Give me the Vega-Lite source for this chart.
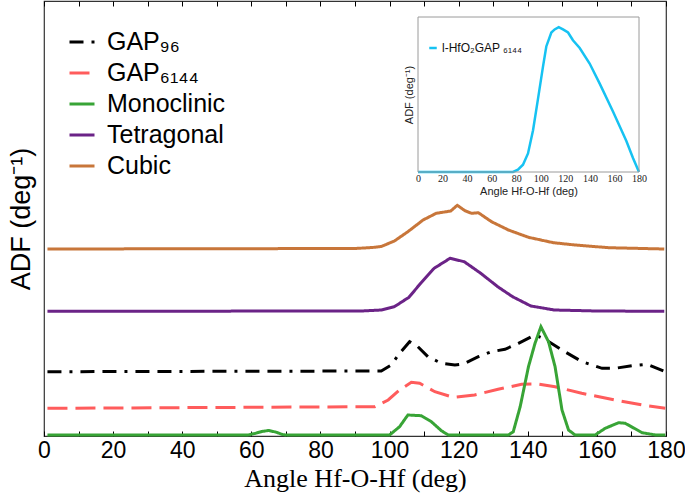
{
  "$schema": "https://vega.github.io/schema/vega-lite/v6.json",
  "width": 622,
  "height": 435,
  "autosize": {"type": "none"},
  "padding": {"left": 44, "top": 1, "right": 19, "bottom": 57},
  "config": {
    "view": {"stroke": "#333", "strokeWidth": 1.2},
    "axis": {"grid": false},
    "font": "Liberation Sans"
  },
  "datasets": {
    "main": [
      {"series": "Cubic", "angle": 1, "adf": 1.87},
      {"series": "Cubic", "angle": 90, "adf": 1.875},
      {"series": "Cubic", "angle": 95, "adf": 1.885},
      {"series": "Cubic", "angle": 97.6, "adf": 1.895},
      {"series": "Cubic", "angle": 101.4, "adf": 1.95},
      {"series": "Cubic", "angle": 105.3, "adf": 2.043},
      {"series": "Cubic", "angle": 109.7, "adf": 2.16},
      {"series": "Cubic", "angle": 113.5, "adf": 2.227},
      {"series": "Cubic", "angle": 117.7, "adf": 2.25},
      {"series": "Cubic", "angle": 119.6, "adf": 2.307},
      {"series": "Cubic", "angle": 121.8, "adf": 2.253},
      {"series": "Cubic", "angle": 123.7, "adf": 2.227},
      {"series": "Cubic", "angle": 125.7, "adf": 2.233},
      {"series": "Cubic", "angle": 129.5, "adf": 2.143},
      {"series": "Cubic", "angle": 134.4, "adf": 2.06},
      {"series": "Cubic", "angle": 140.2, "adf": 1.987},
      {"series": "Cubic", "angle": 147.4, "adf": 1.933},
      {"series": "Cubic", "angle": 153.7, "adf": 1.91},
      {"series": "Cubic", "angle": 163.4, "adf": 1.883},
      {"series": "Cubic", "angle": 179.5, "adf": 1.87},
      {"series": "Tetragonal", "angle": 1, "adf": 1.247},
      {"series": "Tetragonal", "angle": 92, "adf": 1.25},
      {"series": "Tetragonal", "angle": 97.6, "adf": 1.26},
      {"series": "Tetragonal", "angle": 101.4, "adf": 1.293},
      {"series": "Tetragonal", "angle": 105.6, "adf": 1.387},
      {"series": "Tetragonal", "angle": 109, "adf": 1.527},
      {"series": "Tetragonal", "angle": 112.9, "adf": 1.677},
      {"series": "Tetragonal", "angle": 117.5, "adf": 1.777},
      {"series": "Tetragonal", "angle": 121.6, "adf": 1.743},
      {"series": "Tetragonal", "angle": 126.4, "adf": 1.627},
      {"series": "Tetragonal", "angle": 131.3, "adf": 1.493},
      {"series": "Tetragonal", "angle": 135.6, "adf": 1.393},
      {"series": "Tetragonal", "angle": 140.9, "adf": 1.3},
      {"series": "Tetragonal", "angle": 147.7, "adf": 1.26},
      {"series": "Tetragonal", "angle": 160, "adf": 1.25},
      {"series": "Tetragonal", "angle": 179.5, "adf": 1.247},
      {"series": "GAP₉₆", "angle": 1, "adf": 0.643},
      {"series": "GAP₉₆", "angle": 97.6, "adf": 0.65},
      {"series": "GAP₉₆", "angle": 100.5, "adf": 0.71},
      {"series": "GAP₉₆", "angle": 102.9, "adf": 0.827},
      {"series": "GAP₉₆", "angle": 105.8, "adf": 0.943},
      {"series": "GAP₉₆", "angle": 107.7, "adf": 0.91},
      {"series": "GAP₉₆", "angle": 111.1, "adf": 0.793},
      {"series": "GAP₉₆", "angle": 115, "adf": 0.727},
      {"series": "GAP₉₆", "angle": 118.9, "adf": 0.71},
      {"series": "GAP₉₆", "angle": 121.3, "adf": 0.72},
      {"series": "GAP₉₆", "angle": 125.7, "adf": 0.793},
      {"series": "GAP₉₆", "angle": 129.5, "adf": 0.843},
      {"series": "GAP₉₆", "angle": 133.4, "adf": 0.867},
      {"series": "GAP₉₆", "angle": 137.3, "adf": 0.927},
      {"series": "GAP₉₆", "angle": 142.1, "adf": 1.01},
      {"series": "GAP₉₆", "angle": 145, "adf": 0.967},
      {"series": "GAP₉₆", "angle": 149.9, "adf": 0.86},
      {"series": "GAP₉₆", "angle": 155.7, "adf": 0.743},
      {"series": "GAP₉₆", "angle": 161.5, "adf": 0.677},
      {"series": "GAP₉₆", "angle": 165.3, "adf": 0.677},
      {"series": "GAP₉₆", "angle": 170.2, "adf": 0.703},
      {"series": "GAP₉₆", "angle": 174.5, "adf": 0.717},
      {"series": "GAP₉₆", "angle": 179.8, "adf": 0.643},
      {"series": "GAP₆₁₄₄", "angle": 1, "adf": 0.277},
      {"series": "GAP₆₁₄₄", "angle": 95.7, "adf": 0.293},
      {"series": "GAP₆₁₄₄", "angle": 99.6, "adf": 0.36},
      {"series": "GAP₆₁₄₄", "angle": 102.9, "adf": 0.46},
      {"series": "GAP₆₁₄₄", "angle": 106.3, "adf": 0.537},
      {"series": "GAP₆₁₄₄", "angle": 108.7, "adf": 0.527},
      {"series": "GAP₆₁₄₄", "angle": 113.1, "adf": 0.443},
      {"series": "GAP₆₁₄₄", "angle": 118.4, "adf": 0.387},
      {"series": "GAP₆₁₄₄", "angle": 124.6, "adf": 0.41},
      {"series": "GAP₆₁₄₄", "angle": 131.4, "adf": 0.467},
      {"series": "GAP₆₁₄₄", "angle": 138.2, "adf": 0.517},
      {"series": "GAP₆₁₄₄", "angle": 143, "adf": 0.52},
      {"series": "GAP₆₁₄₄", "angle": 147.9, "adf": 0.493},
      {"series": "GAP₆₁₄₄", "angle": 155.6, "adf": 0.427},
      {"series": "GAP₆₁₄₄", "angle": 165.3, "adf": 0.36},
      {"series": "GAP₆₁₄₄", "angle": 174.9, "adf": 0.3},
      {"series": "GAP₆₁₄₄", "angle": 179.8, "adf": 0.277},
      {"series": "Monoclinic", "angle": 1, "adf": 0.01},
      {"series": "Monoclinic", "angle": 59, "adf": 0.01},
      {"series": "Monoclinic", "angle": 61, "adf": 0.025},
      {"series": "Monoclinic", "angle": 63, "adf": 0.045},
      {"series": "Monoclinic", "angle": 65, "adf": 0.055},
      {"series": "Monoclinic", "angle": 67, "adf": 0.04},
      {"series": "Monoclinic", "angle": 69, "adf": 0.015},
      {"series": "Monoclinic", "angle": 70, "adf": 0.01},
      {"series": "Monoclinic", "angle": 100, "adf": 0.01},
      {"series": "Monoclinic", "angle": 102.9, "adf": 0.093},
      {"series": "Monoclinic", "angle": 105.3, "adf": 0.21},
      {"series": "Monoclinic", "angle": 109.2, "adf": 0.203},
      {"series": "Monoclinic", "angle": 112.1, "adf": 0.143},
      {"series": "Monoclinic", "angle": 115, "adf": 0.053},
      {"series": "Monoclinic", "angle": 117, "adf": 0.01},
      {"series": "Monoclinic", "angle": 134.4, "adf": 0.01},
      {"series": "Monoclinic", "angle": 135.8, "adf": 0.043},
      {"series": "Monoclinic", "angle": 137.8, "adf": 0.293},
      {"series": "Monoclinic", "angle": 140.2, "adf": 0.693},
      {"series": "Monoclinic", "angle": 142.1, "adf": 0.927},
      {"series": "Monoclinic", "angle": 143.8, "adf": 1.093},
      {"series": "Monoclinic", "angle": 146, "adf": 0.943},
      {"series": "Monoclinic", "angle": 147.9, "adf": 0.693},
      {"series": "Monoclinic", "angle": 149.9, "adf": 0.26},
      {"series": "Monoclinic", "angle": 151.8, "adf": 0.06},
      {"series": "Monoclinic", "angle": 153.7, "adf": 0.01},
      {"series": "Monoclinic", "angle": 159.5, "adf": 0.01},
      {"series": "Monoclinic", "angle": 162.4, "adf": 0.077},
      {"series": "Monoclinic", "angle": 166.3, "adf": 0.133},
      {"series": "Monoclinic", "angle": 168.2, "adf": 0.127},
      {"series": "Monoclinic", "angle": 173.1, "adf": 0.033},
      {"series": "Monoclinic", "angle": 177, "adf": 0.01},
      {"series": "Monoclinic", "angle": 179.8, "adf": 0.01}
    ],
    "inset": [
      {"series": "l-HfO₂GAP ₆₁₄₄", "angle": 0, "adf": 0},
      {"series": "l-HfO₂GAP ₆₁₄₄", "angle": 77.4, "adf": 0},
      {"series": "l-HfO₂GAP ₆₁₄₄", "angle": 81.4, "adf": 0.015},
      {"series": "l-HfO₂GAP ₆₁₄₄", "angle": 85.5, "adf": 0.047},
      {"series": "l-HfO₂GAP ₆₁₄₄", "angle": 89.6, "adf": 0.12},
      {"series": "l-HfO₂GAP ₆₁₄₄", "angle": 93.7, "adf": 0.27},
      {"series": "l-HfO₂GAP ₆₁₄₄", "angle": 97.7, "adf": 0.47},
      {"series": "l-HfO₂GAP ₆₁₄₄", "angle": 101.8, "adf": 0.68},
      {"series": "l-HfO₂GAP ₆₁₄₄", "angle": 104.5, "adf": 0.81},
      {"series": "l-HfO₂GAP ₆₁₄₄", "angle": 108.6, "adf": 0.9},
      {"series": "l-HfO₂GAP ₆₁₄₄", "angle": 111.3, "adf": 0.92},
      {"series": "l-HfO₂GAP ₆₁₄₄", "angle": 114.6, "adf": 0.935},
      {"series": "l-HfO₂GAP ₆₁₄₄", "angle": 118.1, "adf": 0.92},
      {"series": "l-HfO₂GAP ₆₁₄₄", "angle": 122.2, "adf": 0.9},
      {"series": "l-HfO₂GAP ₆₁₄₄", "angle": 126.2, "adf": 0.85},
      {"series": "l-HfO₂GAP ₆₁₄₄", "angle": 131.7, "adf": 0.8},
      {"series": "l-HfO₂GAP ₆₁₄₄", "angle": 139.8, "adf": 0.7},
      {"series": "l-HfO₂GAP ₆₁₄₄", "angle": 148, "adf": 0.57},
      {"series": "l-HfO₂GAP ₆₁₄₄", "angle": 158.8, "adf": 0.39},
      {"series": "l-HfO₂GAP ₆₁₄₄", "angle": 169.7, "adf": 0.2},
      {"series": "l-HfO₂GAP ₆₁₄₄", "angle": 175.1, "adf": 0.09},
      {"series": "l-HfO₂GAP ₆₁₄₄", "angle": 180, "adf": 0}
    ]
  },
  "layer": [
    {
      "layer": [
        {
          "data": {"name": "main"},
          "mark": {"type": "line", "strokeWidth": 3, "strokeCap": "butt"},
          "encoding": {
            "x": {
              "field": "angle", "type": "quantitative",
              "scale": {"domain": [0, 180], "nice": false},
              "axis": {
                "orient": "bottom",
                "values": [0, 10, 20, 30, 40, 50, 60, 70, 80, 90, 100, 110, 120, 130, 140, 150, 160, 170, 180],
                "labelExpr": "datum.value % 20 === 0 ? datum.label : ''",
                "labelFlush": false, "labelOverlap": false,
                "tickSize": -5, "tickColor": "#000", "tickWidth": 1,
                "domain": false,
                "labelFont": "Liberation Sans", "labelFontSize": 23, "labelColor": "#000", "labelPadding": 8,
                "title": "Angle Hf-O-Hf (deg)",
                "titleFont": "Liberation Serif", "titleFontSize": 26, "titleFontWeight": "normal", "titleColor": "#000", "titlePadding": 3
              }
            },
            "y": {
              "field": "adf", "type": "quantitative",
              "scale": {"domain": [0, 4.35], "nice": false, "zero": false},
              "axis": {
                "orient": "left", "labels": false, "ticks": false, "domain": false,
                "title": "ADF (deg⁻¹)",
                "titleFont": "Liberation Sans", "titleFontSize": 27, "titleFontWeight": "normal", "titleColor": "#000", "titlePadding": 9
              }
            },
            "color": {
              "field": "series", "type": "nominal",
              "scale": {
                "domain": ["GAP₉₆", "GAP₆₁₄₄", "Monoclinic", "Tetragonal", "Cubic"],
                "range": ["#000000", "#ff5c5c", "#38a436", "#6b2387", "#c8763a"]
              },
              "legend": {
                "orient": "none", "legendX": 24, "legendY": 27, "title": null, "padding": 0,
                "symbolType": "stroke", "symbolSize": 625, "symbolStrokeWidth": 3,
                "labelFont": "Liberation Sans", "labelFontSize": 25, "labelColor": "#000",
                "labelOffset": 11, "rowPadding": 4
              }
            },
            "strokeDash": {
              "field": "series", "type": "nominal",
              "scale": {
                "domain": ["GAP₉₆", "GAP₆₁₄₄", "Monoclinic", "Tetragonal", "Cubic"],
                "range": [[14, 8, 3, 8, 14, 8], [20, 8], [1, 0], [1, 0], [1, 0]]
              },
              "legend": {
                "orient": "none", "legendX": 24, "legendY": 27, "title": null, "padding": 0,
                "symbolType": "stroke", "symbolSize": 625, "symbolStrokeWidth": 3,
                "labelFont": "Liberation Sans", "labelFontSize": 25, "labelColor": "#000",
                "labelOffset": 11, "rowPadding": 4
              }
            }
          }
        },
        {
          "data": {"values": [{"angle": 0}, {"angle": 180}]},
          "mark": {"type": "rule", "opacity": 0},
          "encoding": {
            "x": {
              "field": "angle", "type": "quantitative",
              "axis": {
                "orient": "top",
                "values": [0, 10, 20, 30, 40, 50, 60, 70, 80, 90, 100, 110, 120, 130, 140, 150, 160, 170, 180],
                "labels": false, "tickSize": -5, "tickColor": "#000", "domain": false, "title": null
              }
            }
          }
        }
      ],
      "resolve": {"axis": {"x": "independent"}}
    },
    {
      "layer": [
        {
          "data": {"name": "inset"},
          "mark": {"type": "line", "strokeWidth": 2.5},
          "encoding": {
            "x": {
              "field": "angle", "type": "quantitative",
              "scale": {"domain": [0, 180], "nice": false, "range": [374, 595]},
              "axis": {
                "orient": "bottom", "offset": -264,
                "values": [0, 20, 40, 60, 80, 100, 120, 140, 160, 180],
                "labelFlush": false, "labelOverlap": false, "ticks": false, "domain": false,
                "labelFont": "Liberation Serif", "labelFontSize": 10, "labelColor": "#222", "labelPadding": 1,
                "title": "Angle Hf-O-Hf (deg)",
                "titleFont": "Liberation Sans", "titleFontSize": 11, "titleFontWeight": "normal", "titleColor": "#222", "titlePadding": 2
              }
            },
            "y": {
              "field": "adf", "type": "quantitative",
              "scale": {"domain": [0, 1], "nice": false, "range": [171, 16]},
              "axis": {
                "orient": "left", "offset": -374, "labels": false, "ticks": false, "domain": false,
                "title": "ADF (deg⁻¹)",
                "titleFont": "Liberation Sans", "titleFontSize": 11, "titleFontWeight": "normal", "titleColor": "#222", "titlePadding": 4
              }
            },
            "color": {
              "field": "series", "type": "nominal",
              "scale": {"range": ["#16c2f2"]},
              "legend": {
                "orient": "none", "legendX": 383, "legendY": 41, "title": null, "padding": 0,
                "symbolType": "stroke", "symbolSize": 56, "symbolStrokeWidth": 2.5,
                "labelFont": "Liberation Sans", "labelFontSize": 12, "labelColor": "#111", "labelOffset": 3
              }
            }
          }
        },
        {
          "data": {"values": [{}]},
          "mark": {"type": "rect", "fillOpacity": 0, "stroke": "#9a9a9a", "strokeWidth": 1},
          "encoding": {
            "x": {"datum": 0, "type": "quantitative"},
            "x2": {"datum": 180},
            "y": {"datum": 0, "type": "quantitative"},
            "y2": {"datum": 1}
          }
        }
      ]
    }
  ],
  "resolve": {
    "scale": {"x": "independent", "y": "independent", "color": "independent", "strokeDash": "independent"},
    "axis": {"x": "independent", "y": "independent"},
    "legend": {"color": "independent"}
  }
}
